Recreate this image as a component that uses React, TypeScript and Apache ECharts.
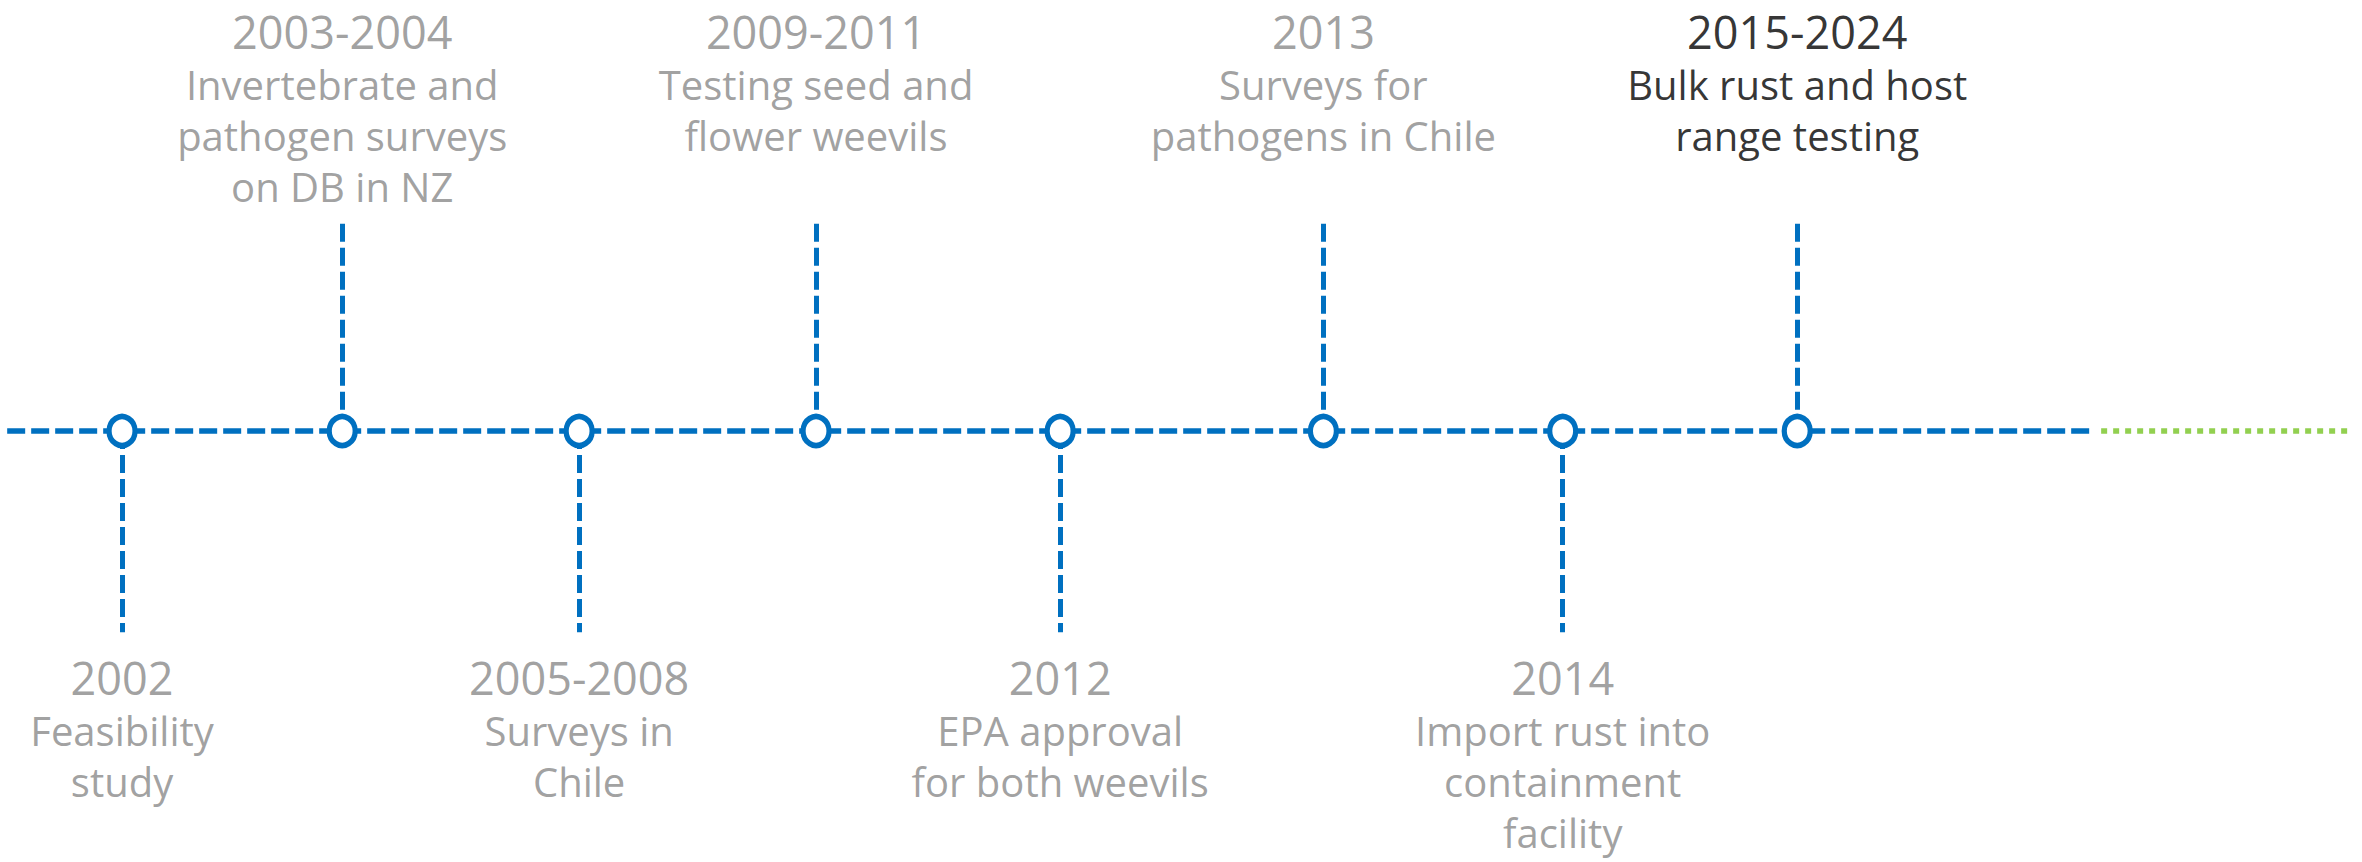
import React, { useEffect, useRef } from "react";
import * as echarts from "echarts";

// Event slots along the timeline (1 unit ≈ average spacing)
const POSITIONS = [0, 0.92, 1.91, 2.9, 3.92, 5.02, 6.02, 7.0];
const YEARS = ["2002", "2003-2004", "2005-2008", "2009-2011", "2012", "2013", "2014", "2015-2024"];
const DESCRIPTIONS = [
  ["Feasibility", "study"],
  ["Invertebrate and", "pathogen surveys", "on DB in NZ"],
  ["Surveys in", "Chile"],
  ["Testing seed and", "flower weevils"],
  ["EPA approval", "for both weevils"],
  ["Surveys for", "pathogens in Chile"],
  ["Import rust into", "containment", "facility"],
  ["Bulk rust and host", "range testing"],
];
// connector length: positive = above the timeline, negative = below
const CONNECTORS = [-0.98, 1.01, -0.98, 1.01, -0.98, 1.01, -0.98, 1.01];
const CURRENT_INDEX = 7;
const TIMELINE_DONE = [-0.48, 8.24];
const TIMELINE_FUTURE = [8.27, 9.3];

const X_RANGE = [-0.51, 9.36];
const Y_RANGE = [-2.1, 2.1];

const BLUE = "#0070C0";
const GREEN = "#92D050";
const GREY = "#898989";
const FONT = "Open Sans";

export default function App() {
  const ref = useRef<HTMLDivElement>(null);

  useEffect(() => {
    if (!ref.current) return;
    const chart = echarts.init(ref.current, undefined, { renderer: "svg" });

    const labelText = (i: number) => {
      const sfx = i === CURRENT_INDEX ? "b" : "";
      return [`{y${sfx}|${YEARS[i]}}`, ...DESCRIPTIONS[i].map((d) => `{d${sfx}|${d}}`)].join("\n");
    };

    const rich = {
      y: { fontFamily: FONT, fontSize: 45, lineHeight: 55, color: GREY, align: "center" },
      d: { fontFamily: FONT, fontSize: 40, lineHeight: 51, color: GREY, align: "center" },
      yb: { fontFamily: FONT, fontSize: 45, lineHeight: 55, color: "#000", align: "center" },
      db: { fontFamily: FONT, fontSize: 40, lineHeight: 51, color: "#000", align: "center" },
    };

    const labelData = POSITIONS.map((x, i) => {
      const up = CONNECTORS[i] > 0;
      return {
        value: [x, up ? Y_RANGE[1] : CONNECTORS[i]],
        label: { distance: up ? 4 : 18 },
      };
    });

    chart.setOption({
      animation: false,
      grid: { left: 0, right: 0, top: 0, bottom: 0 },
      xAxis: { type: "value", min: X_RANGE[0], max: X_RANGE[1], show: false },
      yAxis: { type: "value", min: Y_RANGE[0], max: Y_RANGE[1], show: false },
      series: [
        {
          type: "line",
          data: [
            [TIMELINE_DONE[0], 0],
            [TIMELINE_DONE[1], 0],
          ],
          showSymbol: false,
          silent: true,
          lineStyle: { color: BLUE, width: 5.5, type: [18, 6], cap: "butt" },
          z: 1,
        },
        {
          type: "line",
          data: [
            [TIMELINE_FUTURE[0], 0],
            [TIMELINE_FUTURE[1], 0],
          ],
          showSymbol: false,
          silent: true,
          lineStyle: { color: GREEN, width: 5.5, type: [6, 6], cap: "butt" },
          z: 1,
        },
        {
          type: "lines",
          coordinateSystem: "cartesian2d",
          silent: true,
          data: POSITIONS.map((x, i) => ({
            coords: CONNECTORS[i] > 0 ? [[x, CONNECTORS[i]], [x, 0]] : [[x, 0], [x, CONNECTORS[i]]],
          })),
          lineStyle: { color: BLUE, width: 5, type: [18, 6], cap: "butt", opacity: 1 },
          z: 2,
        },
        {
          type: "scatter",
          data: POSITIONS.map((x) => [x, 0]),
          symbol: "circle",
          symbolSize: [26, 29],
          silent: true,
          itemStyle: { color: "#fff", borderColor: BLUE, borderWidth: 5.5, opacity: 1 },
          z: 3,
        },
        {
          type: "scatter",
          data: labelData,
          symbolSize: 0,
          silent: true,
          clip: false,
          label: {
            show: true,
            position: "bottom",
            align: "center",
            formatter: (p: any) => labelText(p.dataIndex),
            rich,
          },
          z: 4,
        },
      ],
    });

    return () => chart.dispose();
  }, []);

  return (
    <div
      ref={ref}
      style={{ position: "absolute", left: 0, top: 0, width: 2362, height: 862, background: "#fff" }}
    />
  );
}
